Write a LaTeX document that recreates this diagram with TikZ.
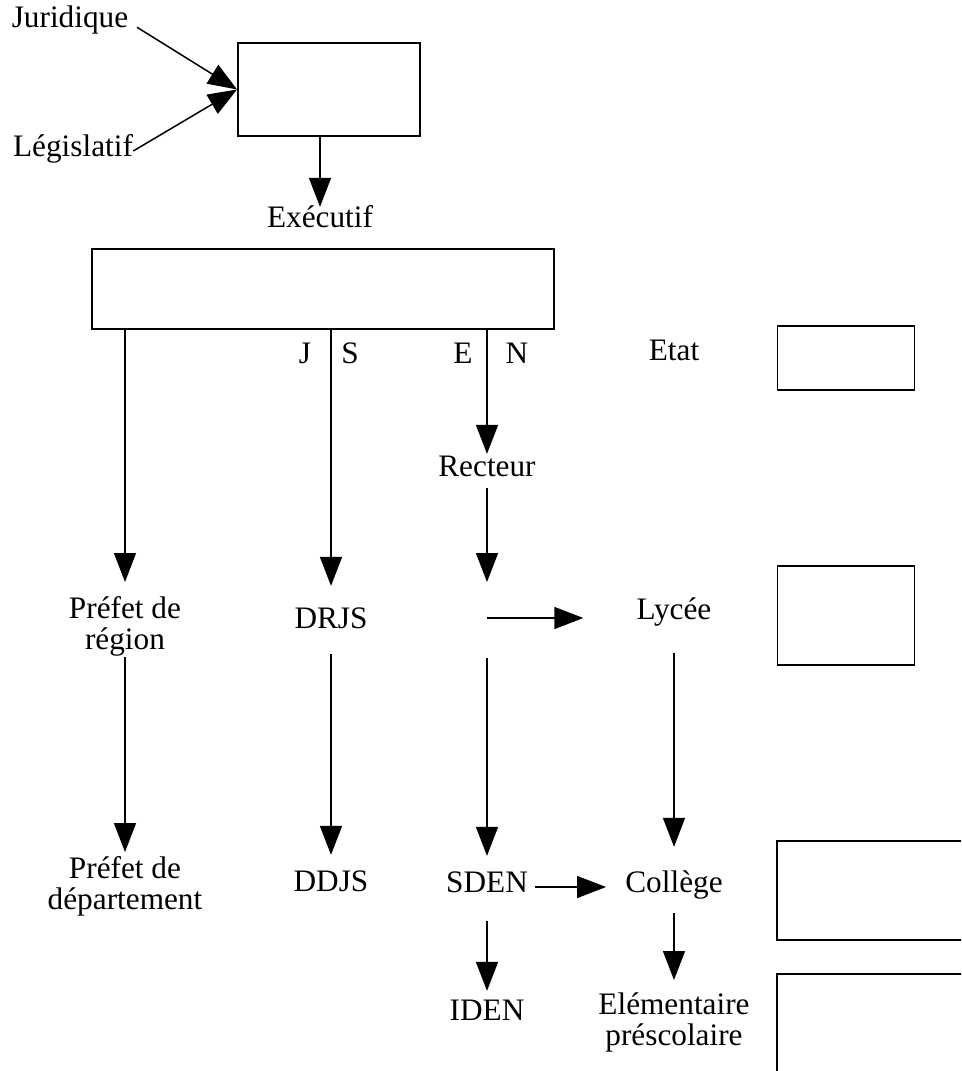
\documentclass[tikz,border=0pt]{standalone}
\usepackage{fontspec}
\setmainfont{Liberation Serif}
\usetikzlibrary{arrows.meta}

\begin{document}
\begin{tikzpicture}[x=0.02cm,y=-0.02cm,
box/.style={draw,rectangle,line width=1.1pt,inner sep=0pt},
lbl/.style={inner sep=0pt,text height=0.66em,text depth=0pt,font=\fontsize{17.8}{17.8}\selectfont},
lbltwo/.style={inner sep=0pt,align=center,anchor=north,font=\fontsize{17.8}{17.8}\selectfont},
arr/.style={line width=0.85pt,-{Triangle[length=0.58cm,width=0.44cm]}}]

        \useasboundingbox (0,0) rectangle (961,1071);
        \clip (0,0) rectangle (961,1071);

        \node [box, minimum width=3.64cm, minimum height=1.86cm] (top) at (329,89.5) {};
        \node [box, minimum width=9.24cm, minimum height=1.6cm] (exe) at (323,289) {};
        \node [box, minimum width=2.74cm, minimum height=1.28cm] (etatbox) at (846,358) {};
        \node [box, minimum width=2.74cm, minimum height=1.98cm] (lycbox) at (846,615.5) {};
        \node [box, minimum width=4.66cm, minimum height=1.98cm] (colbox) at (893.5,890.5) {};
        \node [box, minimum width=4.66cm, minimum height=2.72cm] (elembox) at (893.5,1042) {};

        \node [lbl] (jur) at (70,22) {Juridique};
        \node [lbl] (leg) at (73,151) {Législatif};
        \node [lbl] (exec) at (320,222) {Exécutif};
        \node [lbl] (J) at (305,358) {J};
        \node [lbl] (S) at (350,358) {S};
        \node [lbl] (E) at (463,358) {E};
        \node [lbl] (N) at (517,358) {N};
        \node [lbl] (etat) at (674,355) {Etat};
        \node [lbl] (rect) at (487,471) {Recteur};
        \node [lbltwo] (reg) at (125,596) {Préfet de\\région};
        \node [lbl] (drjs) at (331,623) {DRJS};
        \coordinate (aca) at (487,618);
        \node [lbl] (lyc) at (674,614) {Lycée};
        \node [lbltwo] (dep) at (125,856) {Préfet de\\département};
        \node [lbl] (ddjs) at (331,886) {DDJS};
        \node [lbl] (sden) at (487,887) {SDEN};
        \node [lbl] (col) at (674,887) {Collège};
        \node [lbl] (iden) at (487,1015) {IDEN};
        \node [lbltwo] (elem) at (674,992) {Elémentaire\\préscolaire};

        \draw [arr, shorten <=0.2cm] (jur.east) -- (top.west);
        \draw [arr] (leg.east) -- (top.west);
        \draw [arr, shorten >=0.18cm] (top.south -| exec) -- (exec.north);
        \draw [arr, shorten >=0.28cm] (exe.south -| reg) -- (reg.north);
        \draw [arr, shorten >=0.62cm] (exe.south -| drjs) -- (drjs.north);
        \draw [arr, shorten >=0.22cm] (exe.south -| rect) -- (rect.north);
        \draw [arr, shorten <=0.22cm, shorten >=0.72cm] (rect.south) -- (aca);
        \draw [arr, shorten >=1.06cm] (aca) -- (aca -| lyc.west);
        \draw [arr, shorten <=0.8cm, shorten >=0.5cm] (aca) -- (sden.north);
        \draw [arr, shorten <=0.66cm, shorten >=0.68cm] (lyc.south) -- (col.north);
        \draw [arr, shorten <=0.14cm, shorten >=0.38cm] (sden.east) -- (col.west);
        \draw [arr, shorten <=0.56cm, shorten >=0.36cm] (sden.south) -- (iden.north);
        \draw [arr, shorten <=0.4cm, shorten >=0.24cm] (col.south) -- (elem.north);
        \draw [arr, shorten >=0.08cm] (reg.south) -- (dep.north);
        \draw [arr, shorten <=0.5cm, shorten >=0.5cm] (drjs.south) -- (ddjs.north);
    \end{tikzpicture}
\end{document}
